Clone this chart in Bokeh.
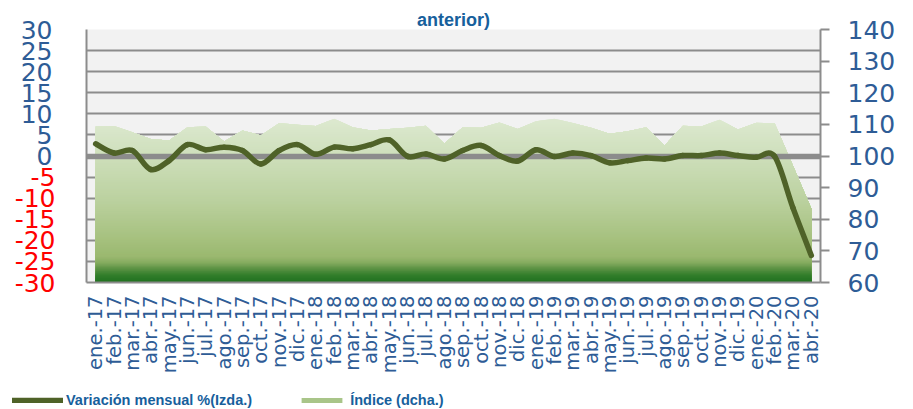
import numpy as np
from bokeh.plotting import figure
from bokeh.layouts import column
from bokeh.models import (FactorRange, Range1d, LinearAxis, FixedTicker, ColumnDataSource,
                          Legend, LegendItem)
from bokeh.embed import file_html
from bokeh.resources import INLINE

# ---------------- data ----------------
months = ["ene.-17", "feb.-17", "mar.-17", "abr.-17", "may.-17", "jun.-17", "jul.-17", "ago.-17",
          "sep.-17", "oct.-17", "nov.-17", "dic.-17",
          "ene.-18", "feb.-18", "mar.-18", "abr.-18", "may.-18", "jun.-18", "jul.-18", "ago.-18",
          "sep.-18", "oct.-18", "nov.-18", "dic.-18",
          "ene.-19", "feb.-19", "mar.-19", "abr.-19", "may.-19", "jun.-19", "jul.-19", "ago.-19",
          "sep.-19", "oct.-19", "nov.-19", "dic.-19",
          "ene.-20", "feb.-20", "mar.-20", "abr.-20"]

variacion = [2.9, 0.7, 1.3, -3.2, -1.1, 2.7, 1.5, 2.1, 1.3, -1.9, 1.3, 2.7,
             0.4, 2.1, 1.7, 2.7, 3.8, -0.1, 0.5, -0.7, 1.3, 2.5, 0.1, -1.2,
             1.5, -0.1, 0.7, 0.1, -1.6, -1.1, -0.5, -0.7, 0.1, 0.1, 0.7, 0.1,
             -0.3, -0.1, -12.3, -23.6]

indice = [109.3, 109.5, 107.5, 105.4, 104.9, 109.1, 109.3, 104.6, 108.1, 106.5, 110.4, 109.9,
          109.5, 111.8, 109.1, 108.1, 108.5, 108.9, 109.6, 103.9, 109.1, 108.9, 110.6, 108.5,
          111.0, 111.8, 110.4, 108.9, 107.0, 107.8, 109.1, 103.3, 109.6, 109.3, 111.5, 108.4,
          110.5, 110.4, 96.9, 83.3]

left_ticks = [-30, -25, -20, -15, -10, -5, 0, 5, 10, 15, 20, 25, 30]
right_ticks = [60, 70, 80, 90, 100, 110, 120, 130, 140]

title_text = "anterior)"
legend_line = "Variación mensual %(Izda.)"
legend_area = "Índice (dcha.)"

# ---------------- styles ----------------
BLUE = "#2E5C96"
RED = "#FF0000"
TITLE_BLUE = "#17609C"
GRAY = "#8C8C8C"
LINE_GREEN = "#4F6228"
grad_stops = [(60.0, "#1E701E"), (62.5, "#347F2C"), (64.5, "#5F9446"), (66.3, "#86AC60"),
              (68.2, "#9AB86F"), (73.3, "#A5C07D"), (85.9, "#BBD19F"), (100.0, "#CEDFBB"),
              (112.0, "#DDE9D0")]


def hex2rgb(h):
    h = h.lstrip("#")
    return np.array([int(h[i:i + 2], 16) for i in (0, 2, 4)], dtype=float)


def grad_color(v):
    vs = [s[0] for s in grad_stops]
    cs = [hex2rgb(s[1]) for s in grad_stops]
    if v <= vs[0]:
        c = cs[0]
    elif v >= vs[-1]:
        c = cs[-1]
    else:
        k = np.searchsorted(vs, v) - 1
        f = (v - vs[k]) / (vs[k + 1] - vs[k])
        c = cs[k] + f * (cs[k + 1] - cs[k])
    return "#%02x%02x%02x" % tuple(int(round(x)) for x in c)


def clipped_top(xs, ys, t):
    ox, oy = [], []
    for i in range(len(xs)):
        if i > 0:
            y0, y1 = ys[i - 1], ys[i]
            if (y0 - t) * (y1 - t) < 0:
                f = (t - y0) / (y1 - y0)
                ox.append(xs[i - 1] + f * (xs[i] - xs[i - 1]))
                oy.append(t)
        ox.append(xs[i])
        oy.append(min(ys[i], t))
    return ox, oy


W, H_MAIN, H_LEG = 913, 388, 21
p = figure(width=W, height=H_MAIN, x_range=FactorRange(factors=months), y_range=Range1d(-30, 30),
           output_backend="svg", toolbar_location=None,
           min_border_left=86, min_border_right=93, min_border_top=29, min_border_bottom=106)
p.frame_align = False
p.extra_y_ranges = {"idx": Range1d(60, 140)}
p.background_fill_color = "#F2F2F2"
p.border_fill_color = "white"
p.outline_line_color = None

# title fragment
p.title.text = title_text
p.title.align = "center"
p.title.offset = 11
p.title.standoff = 0
p.title.text_color = TITLE_BLUE
p.title.text_font = "Liberation Sans"
p.title.text_font_style = "bold"
p.title.text_font_size = "18px"

# x positions (synthetic coords of the factor range: centre of factor i is i + 0.5)
xpos = [i + 0.5 for i in range(len(months))]

# ---------- gradient area (Índice) drawn as nested layers ----------
n_layers = 130
tops = np.linspace(112.0, 60.4, n_layers)
for t in tops:
    lx, ly = clipped_top(xpos, indice, float(t))
    p.varea(x=lx, y1=[60] * len(lx), y2=ly, fill_color=grad_color(float(t) - 0.2),
            y_range_name="idx")

# ---------- zero line ----------
p.hspan(y=[0], line_color=GRAY, line_width=5.5)

# ---------- smoothed monthly variation line (Bezier segments) ----------
n = len(variacion)
x0s, y0s, x1s, y1s, cx0s, cy0s, cx1s, cy1s = ([] for _ in range(8))
for i in range(n - 1):
    a, b = max(i - 1, 0), min(i + 2, n - 1)
    x0s.append(xpos[i]); y0s.append(variacion[i])
    x1s.append(xpos[i + 1]); y1s.append(variacion[i + 1])
    cx0s.append(xpos[i] + (xpos[i + 1] - xpos[a]) / 6.0)
    cy0s.append(variacion[i] + (variacion[i + 1] - variacion[a]) / 6.0)
    cx1s.append(xpos[i + 1] - (xpos[b] - xpos[i]) / 6.0)
    cy1s.append(variacion[i + 1] - (variacion[b] - variacion[i]) / 6.0)
bez = ColumnDataSource(dict(x0=x0s, y0=y0s, x1=x1s, y1=y1s, cx0=cx0s, cy0=cy0s, cx1=cx1s, cy1=cy1s))
p.bezier(x0="x0", y0="y0", x1="x1", y1="y1", cx0="cx0", cy0="cy0", cx1="cx1", cy1="cy1",
         source=bez, line_color=LINE_GREEN, line_width=5.5, line_cap="round")

# ---------- left axes: inner = positive labels (blue), outer = negative labels (red) ----------
LABEL_FONT = "25px"
yax = p.yaxis[0]
yax.ticker = FixedTicker(ticks=left_ticks)
yax.major_label_overrides = {t: "" for t in left_ticks if t < 0}
yax.major_label_text_font = "DejaVu Sans"
yax.major_label_text_font_size = LABEL_FONT
yax.major_label_text_color = BLUE
yax.major_label_standoff = 34
yax.major_tick_out = 0
yax.major_tick_in = 0
yax.major_tick_line_color = None
yax.minor_tick_line_color = None
yax.axis_line_color = GRAY
yax.axis_line_width = 2

nax = LinearAxis(ticker=FixedTicker(ticks=left_ticks))
nax.major_label_overrides = {t: ("" if t >= 0 else "-" + str(abs(t))) for t in left_ticks}
nax.major_label_text_font = "DejaVu Sans"
nax.major_label_text_font_size = LABEL_FONT
nax.major_label_text_color = RED
nax.major_label_standoff = -38
nax.major_tick_out = 0
nax.major_tick_in = 0
nax.major_tick_line_color = None
nax.minor_tick_line_color = None
nax.axis_line_color = None
p.add_layout(nax, "left")

p.ygrid.ticker = FixedTicker(ticks=left_ticks)
p.ygrid.grid_line_color = GRAY
p.ygrid.grid_line_width = 2
p.xgrid.grid_line_color = None

# ---------- right axis ----------
rax = LinearAxis(y_range_name="idx", ticker=FixedTicker(ticks=right_ticks))
rax.major_label_text_font = "DejaVu Sans"
rax.major_label_text_font_size = LABEL_FONT
rax.major_label_text_color = BLUE
rax.major_label_standoff = 18
rax.major_tick_out = 9
rax.major_tick_in = 0
rax.major_tick_line_color = GRAY
rax.major_tick_line_width = 2
rax.minor_tick_line_color = None
rax.axis_line_color = GRAY
rax.axis_line_width = 2
p.add_layout(rax, "right")

# ---------- bottom axis ----------
xax = p.xaxis[0]
xax.major_label_orientation = np.pi / 2
xax.major_label_text_font = "DejaVu Sans"
xax.major_label_text_font_size = "19.5px"
xax.major_label_text_color = BLUE
xax.major_label_standoff = 13
xax.major_tick_out = 0
xax.major_tick_in = 0
xax.major_tick_line_color = None
xax.minor_tick_line_color = None
xax.axis_line_color = GRAY
xax.axis_line_width = 2

# ---------- legend strip (separate small figure below the chart) ----------
q = figure(width=W, height=H_LEG, x_range=Range1d(0, 1), y_range=Range1d(0, 1),
           x_axis_type=None, y_axis_type=None,
           output_backend="svg", toolbar_location=None, min_border=0)
q.frame_align = False
q.grid.visible = False
q.outline_line_color = None
q.background_fill_color = "white"
q.border_fill_color = "white"
leg_line = q.line(x=[5, 6], y=[5, 5], line_color=LINE_GREEN, line_width=5.5, line_cap="round")
leg_area = q.varea(x=[5, 6], y1=[5, 5], y2=[6, 6], fill_color="#A9C589")
legend = Legend(items=[LegendItem(label=legend_line, renderers=[leg_line]),
                       LegendItem(label=legend_area, renderers=[leg_area])],
                orientation="horizontal", location=(12, 1),
                padding=0, margin=0, spacing=44, label_standoff=3,
                glyph_width=51, glyph_height=6, label_height=16,
                background_fill_alpha=0, border_line_color=None,
                label_text_font="Liberation Sans", label_text_font_style="bold",
                label_text_font_size="14.5px", label_text_color=TITLE_BLUE)
q.add_layout(legend, "center")

layout = column(p, q, spacing=0)
open("out.html", "w").write(file_html(layout, INLINE))
